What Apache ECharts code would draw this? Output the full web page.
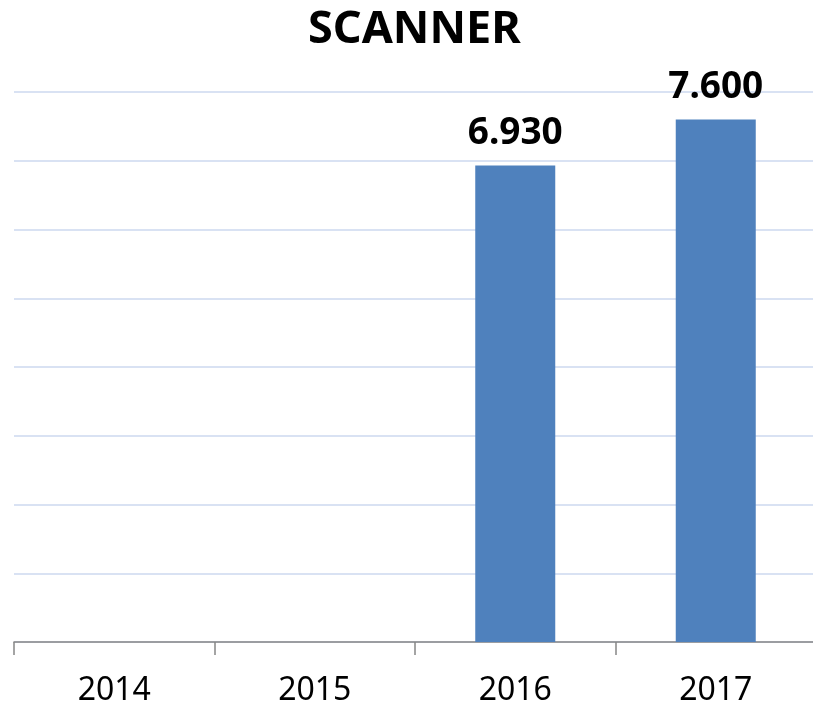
<!DOCTYPE html>
<html>
<head>
<meta charset="utf-8">
<script src="https://cdn.jsdelivr.net/npm/echarts@6/dist/echarts.min.js"></script>
<style>
    html, body { margin: 0; padding: 0; background: #fff; }
    #chart { width: 813px; height: 706px; }
</style>
</head>
<body>
<div id="chart"></div>
<script>
var years = ['2014', '2015', '2016', '2017'];
var scanner = [null, null, 6930, 7600];

var formatThousands = function (v) {
    return String(v).replace(/\B(?=(\d{3})+(?!\d))/g, '.');
};

var myChart = echarts.init(document.getElementById('chart'));
var option = {
    title: {
        text: 'SCANNER',
        left: 303,
        top: 3,
        textStyle: {
            fontFamily: 'Noto Sans',
            fontWeight: 'bold',
            fontSize: 45,
            color: '#000'
        }
    },
    grid: {
        left: 14,
        width: 802,
        top: 92,
        bottom: 64,
        outerBoundsMode: 'none'
    },
    xAxis: {
        type: 'category',
        data: years,
        axisLine: { lineStyle: { color: '#868686', width: 1.5 } },
        axisTick: { show: true, length: 13, lineStyle: { color: '#868686', width: 1.5 } },
        axisLabel: {
            fontFamily: 'Noto Sans',
            fontSize: 32,
            color: '#000',
            margin: 33
        }
    },
    yAxis: {
        type: 'value',
        min: 0,
        max: 8000,
        interval: 1000,
        axisLine: { show: false },
        axisTick: { show: false },
        axisLabel: { show: false },
        splitLine: { lineStyle: { color: '#d9e2f3', width: 2 } }
    },
    series: [
        {
            name: 'SCANNER',
            type: 'bar',
            barWidth: 80,
            data: scanner,
            itemStyle: { color: '#4f81bd' },
            label: {
                show: true,
                position: 'top',
                distance: 14,
                fontFamily: 'Noto Sans',
                fontWeight: 'bold',
                fontSize: 37,
                color: '#000',
                formatter: function (p) {
                    return formatThousands(p.value);
                }
            }
        }
    ]
};
myChart.setOption(option);
</script>
</body>
</html>
